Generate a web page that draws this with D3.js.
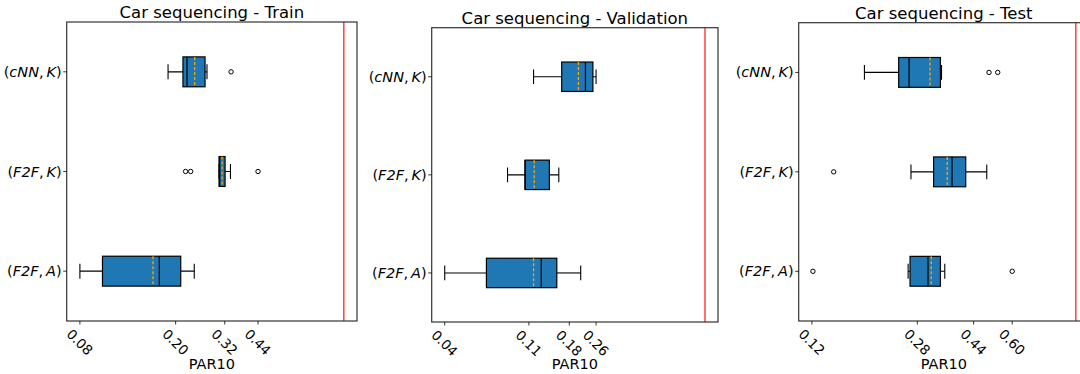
<!DOCTYPE html>
<html>
<head>
<meta charset="utf-8">
<script src="https://cdn.jsdelivr.net/npm/d3@7"></script>
<style>
  body { margin: 0; background: #fff; }
  svg text { font-family: "DejaVu Sans", sans-serif; }
</style>
</head>
<body>
<div id="chart"></div>
<script>
// categories, bottom to top in plot order
const categories = ['(F2F,A)', '(F2F,K)', '(cNN,K)']
const titles = ['Car sequencing - Train', 'Car sequencing - Validation', 'Car sequencing - Test']

// red reference line (PAR10 timeout)
const refValue = 1.0

// tick values / labels per split
const tickValues = [
    [0.08, 0.20, 0.32, 0.44],
    [0.04, 0.1133, 0.1867, 0.26],
    [0.12, 0.28, 0.44, 0.60]
]
const tickLabels = [
    ['0.08', '0.20', '0.32', '0.44'],
    ['0.04', '0.11', '0.18', '0.26'],
    ['0.12', '0.28', '0.44', '0.60']
]

// box stats: [whiskerLow, q1, median, mean, q3, whiskerHigh], order follows categories
const trainStats = [
    [0.080, 0.0993, 0.171, 0.161, 0.210, 0.239],
    [0.303, 0.303, 0.305, 0.312, 0.321, 0.338],
    [0.186, 0.2145, 0.223, 0.240, 0.265, 0.270]
]
const valStats = [
    [0.040, 0.067, 0.132, 0.120, 0.160, 0.215],
    [0.087, 0.108, 0.108, 0.121, 0.146, 0.164],
    [0.120, 0.170, 0.228, 0.209, 0.250, 0.260]
]
const testStats = [
    [0.260, 0.264, 0.305, 0.313, 0.337, 0.349],
    [0.266, 0.319, 0.370, 0.356, 0.413, 0.489],
    [0.183, 0.241, 0.262, 0.310, 0.337, 0.340]
]

// outliers per category
const trainOutliers = [[], [0.22, 0.231, 0.44], [0.34]]
const valOutliers = [[], [], []]
const testOutliers = [[0.121, 0.60], [0.143], [0.498, 0.534]]

const allStats = [trainStats, valStats, testStats]
const allOutliers = [trainOutliers, valOutliers, testOutliers]

// plot areas (pixels)
const panels = [
    { left: 66.7, right: 357, top: 22, bottom: 321 },
    { left: 431.7, right: 718, top: 27.7, bottom: 322 },
    { left: 798.7, right: 1089, top: 22.7, bottom: 321 }
]

const svg = d3.select('#chart')
    .append('svg')
    .attr('width', 1080)
    .attr('height', 374)

const boxColor = '#1f77b4'

// math-style label: letters italic, punctuation upright
function mathLabel(sel, label) {
    const inner = label.slice(1, -1).split(',')
    sel.append('tspan').text('(')
    sel.append('tspan').attr('font-style', 'italic').text(inner[0])
    sel.append('tspan').text(',\u2009')
    sel.append('tspan').attr('font-style', 'italic').text(inner[1])
    sel.append('tspan').text(')')
}

panels.forEach((p, pi) => {
    const stats = allStats[pi]
    const outliers = allOutliers[pi]
    const lo = d3.min(tickValues[pi])
    const span = Math.log(refValue / lo)
    const pad = Math.exp(0.05 * span)

    const x = d3.scaleLog()
        .domain([lo / pad, refValue * pad])
        .range([p.left, p.right])

    const y = d3.scaleLinear()
        .domain([0.5, 3.5])
        .range([p.bottom, p.top])

    const step = y(1) - y(2)
    const boxH = step * 0.3

    const g = svg.append('g')

    // clip region for plot area
    const clipId = 'clip' + pi
    svg.append('clipPath').attr('id', clipId)
        .append('rect')
        .attr('x', p.left).attr('y', p.top)
        .attr('width', p.right - p.left).attr('height', p.bottom - p.top)

    const plot = g.append('g').attr('clip-path', `url(#${clipId})`)

    // boxes
    stats.forEach((s, i) => {
        const cy = y(i + 1)
        const [wlo, q1, med, mean, q3, whi] = s
        const bg = plot.append('g')

        bg.append('line')
            .attr('x1', x(wlo)).attr('x2', x(q1))
            .attr('y1', cy).attr('y2', cy)
            .attr('stroke', '#000').attr('stroke-width', 1.1)
        bg.append('line')
            .attr('x1', x(q3)).attr('x2', x(whi))
            .attr('y1', cy).attr('y2', cy)
            .attr('stroke', '#000').attr('stroke-width', 1.1)
        // caps
        ;[wlo, whi].forEach(v => {
            bg.append('line')
                .attr('x1', x(v)).attr('x2', x(v))
                .attr('y1', cy - boxH / 4).attr('y2', cy + boxH / 4)
                .attr('stroke', '#000').attr('stroke-width', 1.1)
        })
        bg.append('rect')
            .attr('x', x(q1)).attr('y', cy - boxH / 2)
            .attr('width', Math.max(x(q3) - x(q1), 0.5))
            .attr('height', boxH)
            .attr('fill', boxColor)
            .attr('stroke', '#000').attr('stroke-width', 1.2)
        bg.append('line')
            .attr('x1', x(med)).attr('x2', x(med))
            .attr('y1', cy - boxH / 2).attr('y2', cy + boxH / 2)
            .attr('stroke', '#000').attr('stroke-width', 1.2)
        bg.append('line')
            .attr('x1', x(mean)).attr('x2', x(mean))
            .attr('y1', cy - boxH / 2).attr('y2', cy + boxH / 2)
            .attr('stroke', 'orange').attr('stroke-width', 1.3)
            .attr('stroke-dasharray', '3,2')

        bg.selectAll('circle')
            .data(outliers[i])
            .join('circle')
            .attr('cx', d => x(d))
            .attr('cy', cy)
            .attr('r', 2.2)
            .attr('fill', 'none')
            .attr('stroke', '#000')
            .attr('stroke-width', 1)
    })

    // red reference line
    plot.append('line')
        .attr('x1', x(refValue)).attr('x2', x(refValue))
        .attr('y1', p.top).attr('y2', p.bottom)
        .attr('stroke', 'red').attr('stroke-opacity', 0.75)
        .attr('stroke-width', 1.5)

    // frame
    g.append('rect')
        .attr('x', p.left).attr('y', p.top)
        .attr('width', p.right - p.left).attr('height', p.bottom - p.top)
        .attr('fill', 'none')
        .attr('stroke', '#333').attr('stroke-width', 1.2)

    // x axis ticks
    const xTicks = g.append('g')
    tickValues[pi].forEach((v, k) => {
        const tx = x(v)
        xTicks.append('line')
            .attr('x1', tx).attr('x2', tx)
            .attr('y1', p.bottom).attr('y2', p.bottom + 3.5)
            .attr('stroke', '#000').attr('stroke-width', 0.8)
        xTicks.append('text')
            .attr('transform', `translate(${tx},${p.bottom + 21}) rotate(45)`)
            .attr('text-anchor', 'middle')
            .attr('dominant-baseline', 'central')
            .attr('font-size', 13.5)
            .text(tickLabels[pi][k])
    })

    g.append('text')
        .attr('x', (p.left + p.right) / 2)
        .attr('y', 369)
        .attr('text-anchor', 'middle')
        .attr('font-size', 14.5)
        .text('PAR10')

    // y axis
    categories.forEach((c, i) => {
        const cy = y(i + 1)
        g.append('line')
            .attr('x1', p.left - 3.5).attr('x2', p.left)
            .attr('y1', cy).attr('y2', cy)
            .attr('stroke', '#000').attr('stroke-width', 0.8)
        g.append('text')
            .attr('x', p.left - 5)
            .attr('y', cy)
            .attr('text-anchor', 'end')
            .attr('dominant-baseline', 'central')
            .attr('font-size', 14.5)
            .call(mathLabel, c)
    })

    // title
    g.append('text')
        .attr('x', (p.left + p.right) / 2)
        .attr('y', p.top - 4)
        .attr('text-anchor', 'middle')
        .attr('font-size', 16.5)
        .text(titles[pi])
})
</script>
</body>
</html>
